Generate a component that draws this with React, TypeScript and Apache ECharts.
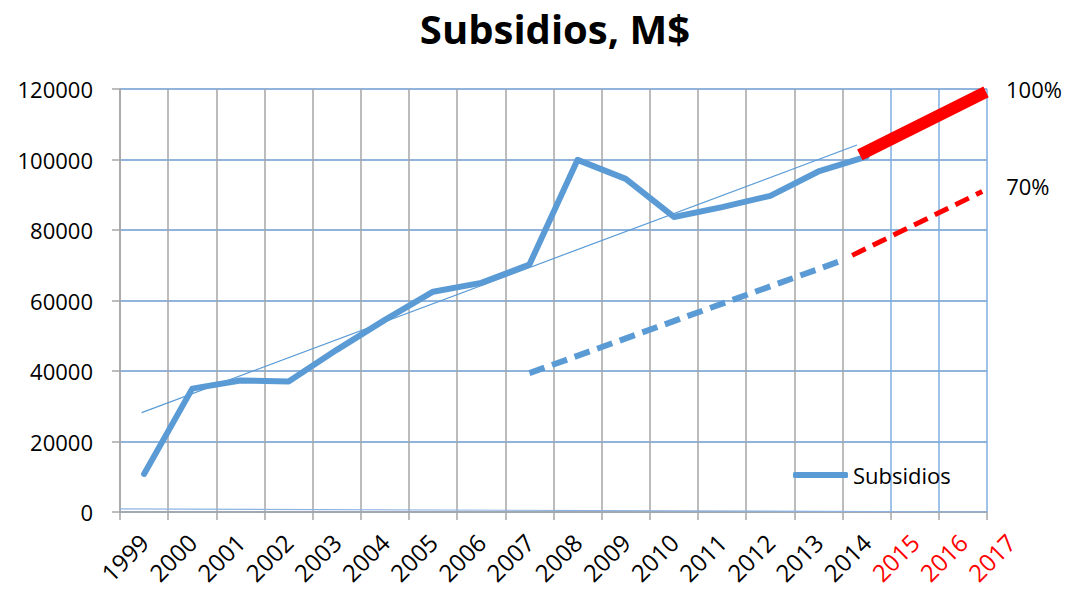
import React, { useEffect, useRef } from "react";
import * as echarts from "echarts";

const gridYears = ["1999","2000","2001","2002","2003","2004","2005","2006","2007","2008","2009","2010","2011","2012","2013","2014","2015","2016"];
const labelYears = ["1999","2000","2001","2002","2003","2004","2005","2006","2007","2008","2009","2010","2011","2012","2013","2014","2015","2016","2017"];
const redLabelYears = ["2015","2016","2017"];
const subsidiosYears = [1999,2000,2001,2002,2003,2004,2005,2006,2007,2008,2009,2010,2011,2012,2013,2014];
const subsidiosValues = [10800,35000,37300,37000,46000,54500,62500,65000,70200,99900,94500,83700,86500,89700,96600,100800];
const trendPoints = [[1998.95, 28200],[2013.8, 104100]];
const dashedBluePoints = [[2007, 39400],[2013.5, 71400]];
const dashedRedPoints = [[2013.7, 72800],[2016.4, 90900]];
const thickRedPoints = [[2013.86, 101300],[2016.48, 119200]];
const basePoints = [[1998.5, 900],[2016.5, 0]];
const yTicks = { min: 0, max: 120000, interval: 20000 };

const FONT = "Open Sans";

export default function App() {
  const ref = useRef<HTMLDivElement>(null);
  useEffect(() => {
    if (!ref.current) return;
    const chart = echarts.init(ref.current, null, { renderer: "svg" });
    const vColors = gridYears.map((_, i) => (i < 16 ? "#a6a6a6" : "#7eaee0"));
    vColors.push("#7eaee0");
    const bandW = 867 / 18;
    const right1 = 1081 - 120 - bandW * 19;
    chart.setOption({
      animation: false,
      backgroundColor: "#ffffff",
      title: {
        text: "Subsidios, M$",
        left: 555,
        top: 6,
        padding: 0,
        textAlign: "center",
        textStyle: { fontFamily: FONT, fontWeight: "bold", fontSize: 40, lineHeight: 44, color: "#000" },
      },
      legend: {
        data: [{ name: "Subsidios", icon: "roundRect" }],
        left: 793,
        top: 464,
        padding: 0,
        itemWidth: 55,
        itemHeight: 6,
        itemGap: 5,
        textStyle: { fontFamily: FONT, fontSize: 22, color: "#000" },
      },
      grid: [
        { left: 120, right: 94, top: 89, bottom: 78 },
        { left: 120, right: right1, top: 89, bottom: 78 },
      ],
      xAxis: [
        {
          gridIndex: 0,
          type: "category",
          data: gridYears,
          boundaryGap: true,
          axisLine: { show: true, lineStyle: { color: "#a6a6a6", width: 1.5 } },
          axisTick: { show: true, length: 8, lineStyle: { color: "#a6a6a6", width: 1.5 } },
          axisLabel: { show: false },
          splitLine: { show: true, lineStyle: { color: vColors, width: 1.5 } },
        },
        {
          gridIndex: 0,
          type: "value",
          min: 1998.5,
          max: 2016.5,
          show: false,
          splitLine: { show: false },
        },
        {
          gridIndex: 1,
          type: "category",
          data: labelYears,
          boundaryGap: true,
          axisLine: { show: false },
          axisTick: { show: false },
          splitLine: { show: false },
          axisLabel: {
            show: true,
            interval: 0,
            rotate: 45,
            margin: 26,
            fontFamily: FONT,
            fontSize: 24,
            color: (v: string) => (redLabelYears.includes(v) ? "#ff0000" : "#000000"),
          },
        },
      ],
      yAxis: [
        {
          gridIndex: 0,
          type: "value",
          min: yTicks.min,
          max: yTicks.max,
          interval: yTicks.interval,
          axisLine: { show: true, lineStyle: { color: "#a6a6a6", width: 1.5 } },
          axisTick: { show: true, length: 8, lineStyle: { color: "#a6a6a6", width: 1.5 } },
          axisLabel: {
            margin: 27,
            fontFamily: FONT,
            fontSize: 22,
            color: "#000",
            formatter: (v: number) => String(v),
          },
          splitLine: { show: true, lineStyle: { color: "#6b9bd0", width: 1.5 } },
        },
        {
          gridIndex: 1,
          type: "value",
          min: yTicks.min,
          max: yTicks.max,
          show: false,
          splitLine: { show: false },
        },
      ],
      series: [
        {
          name: "base",
          type: "line",
          xAxisIndex: 1,
          yAxisIndex: 0,
          data: basePoints,
          symbol: "none",
          lineStyle: { color: "#8db3e2", width: 1.2 },
          silent: true,
        },
        {
          name: "trend",
          type: "line",
          xAxisIndex: 1,
          yAxisIndex: 0,
          data: trendPoints,
          symbol: "none",
          lineStyle: { color: "#5b9bd5", width: 1.2 },
        },
        {
          name: "Subsidios",
          type: "line",
          xAxisIndex: 1,
          yAxisIndex: 0,
          data: subsidiosYears.map((y, i) => [y, subsidiosValues[i]]),
          symbol: "none",
          itemStyle: { color: "#5b9bd5" },
          lineStyle: { color: "#5b9bd5", width: 6, cap: "round", join: "round" },
        },
        {
          name: "dashBlue",
          type: "line",
          xAxisIndex: 1,
          yAxisIndex: 0,
          data: dashedBluePoints,
          symbol: "none",
          lineStyle: { color: "#5b9bd5", width: 6, type: [16, 8] },
        },
        {
          name: "dashRed",
          type: "line",
          xAxisIndex: 1,
          yAxisIndex: 0,
          data: dashedRedPoints,
          symbol: "none",
          lineStyle: { color: "#ff0000", width: 5, type: [15, 8] },
          endLabel: {
            show: true,
            formatter: "70%",
            distance: 24,
            offset: [0, -6],
            fontFamily: FONT,
            fontSize: 22,
            color: "#000",
          },
        },
        {
          name: "thickRed",
          type: "line",
          xAxisIndex: 1,
          yAxisIndex: 0,
          data: thickRedPoints,
          symbol: "none",
          lineStyle: { color: "#ff0000", width: 12 },
          endLabel: {
            show: true,
            formatter: "100%",
            distance: 20,
            offset: [0, -3],
            fontFamily: FONT,
            fontSize: 22,
            color: "#000",
          },
        },
      ],
    });
    return () => chart.dispose();
  }, []);
  return <div ref={ref} style={{ width: 1081, height: 590, position: "absolute", left: 0, top: 0 }} />;
}
